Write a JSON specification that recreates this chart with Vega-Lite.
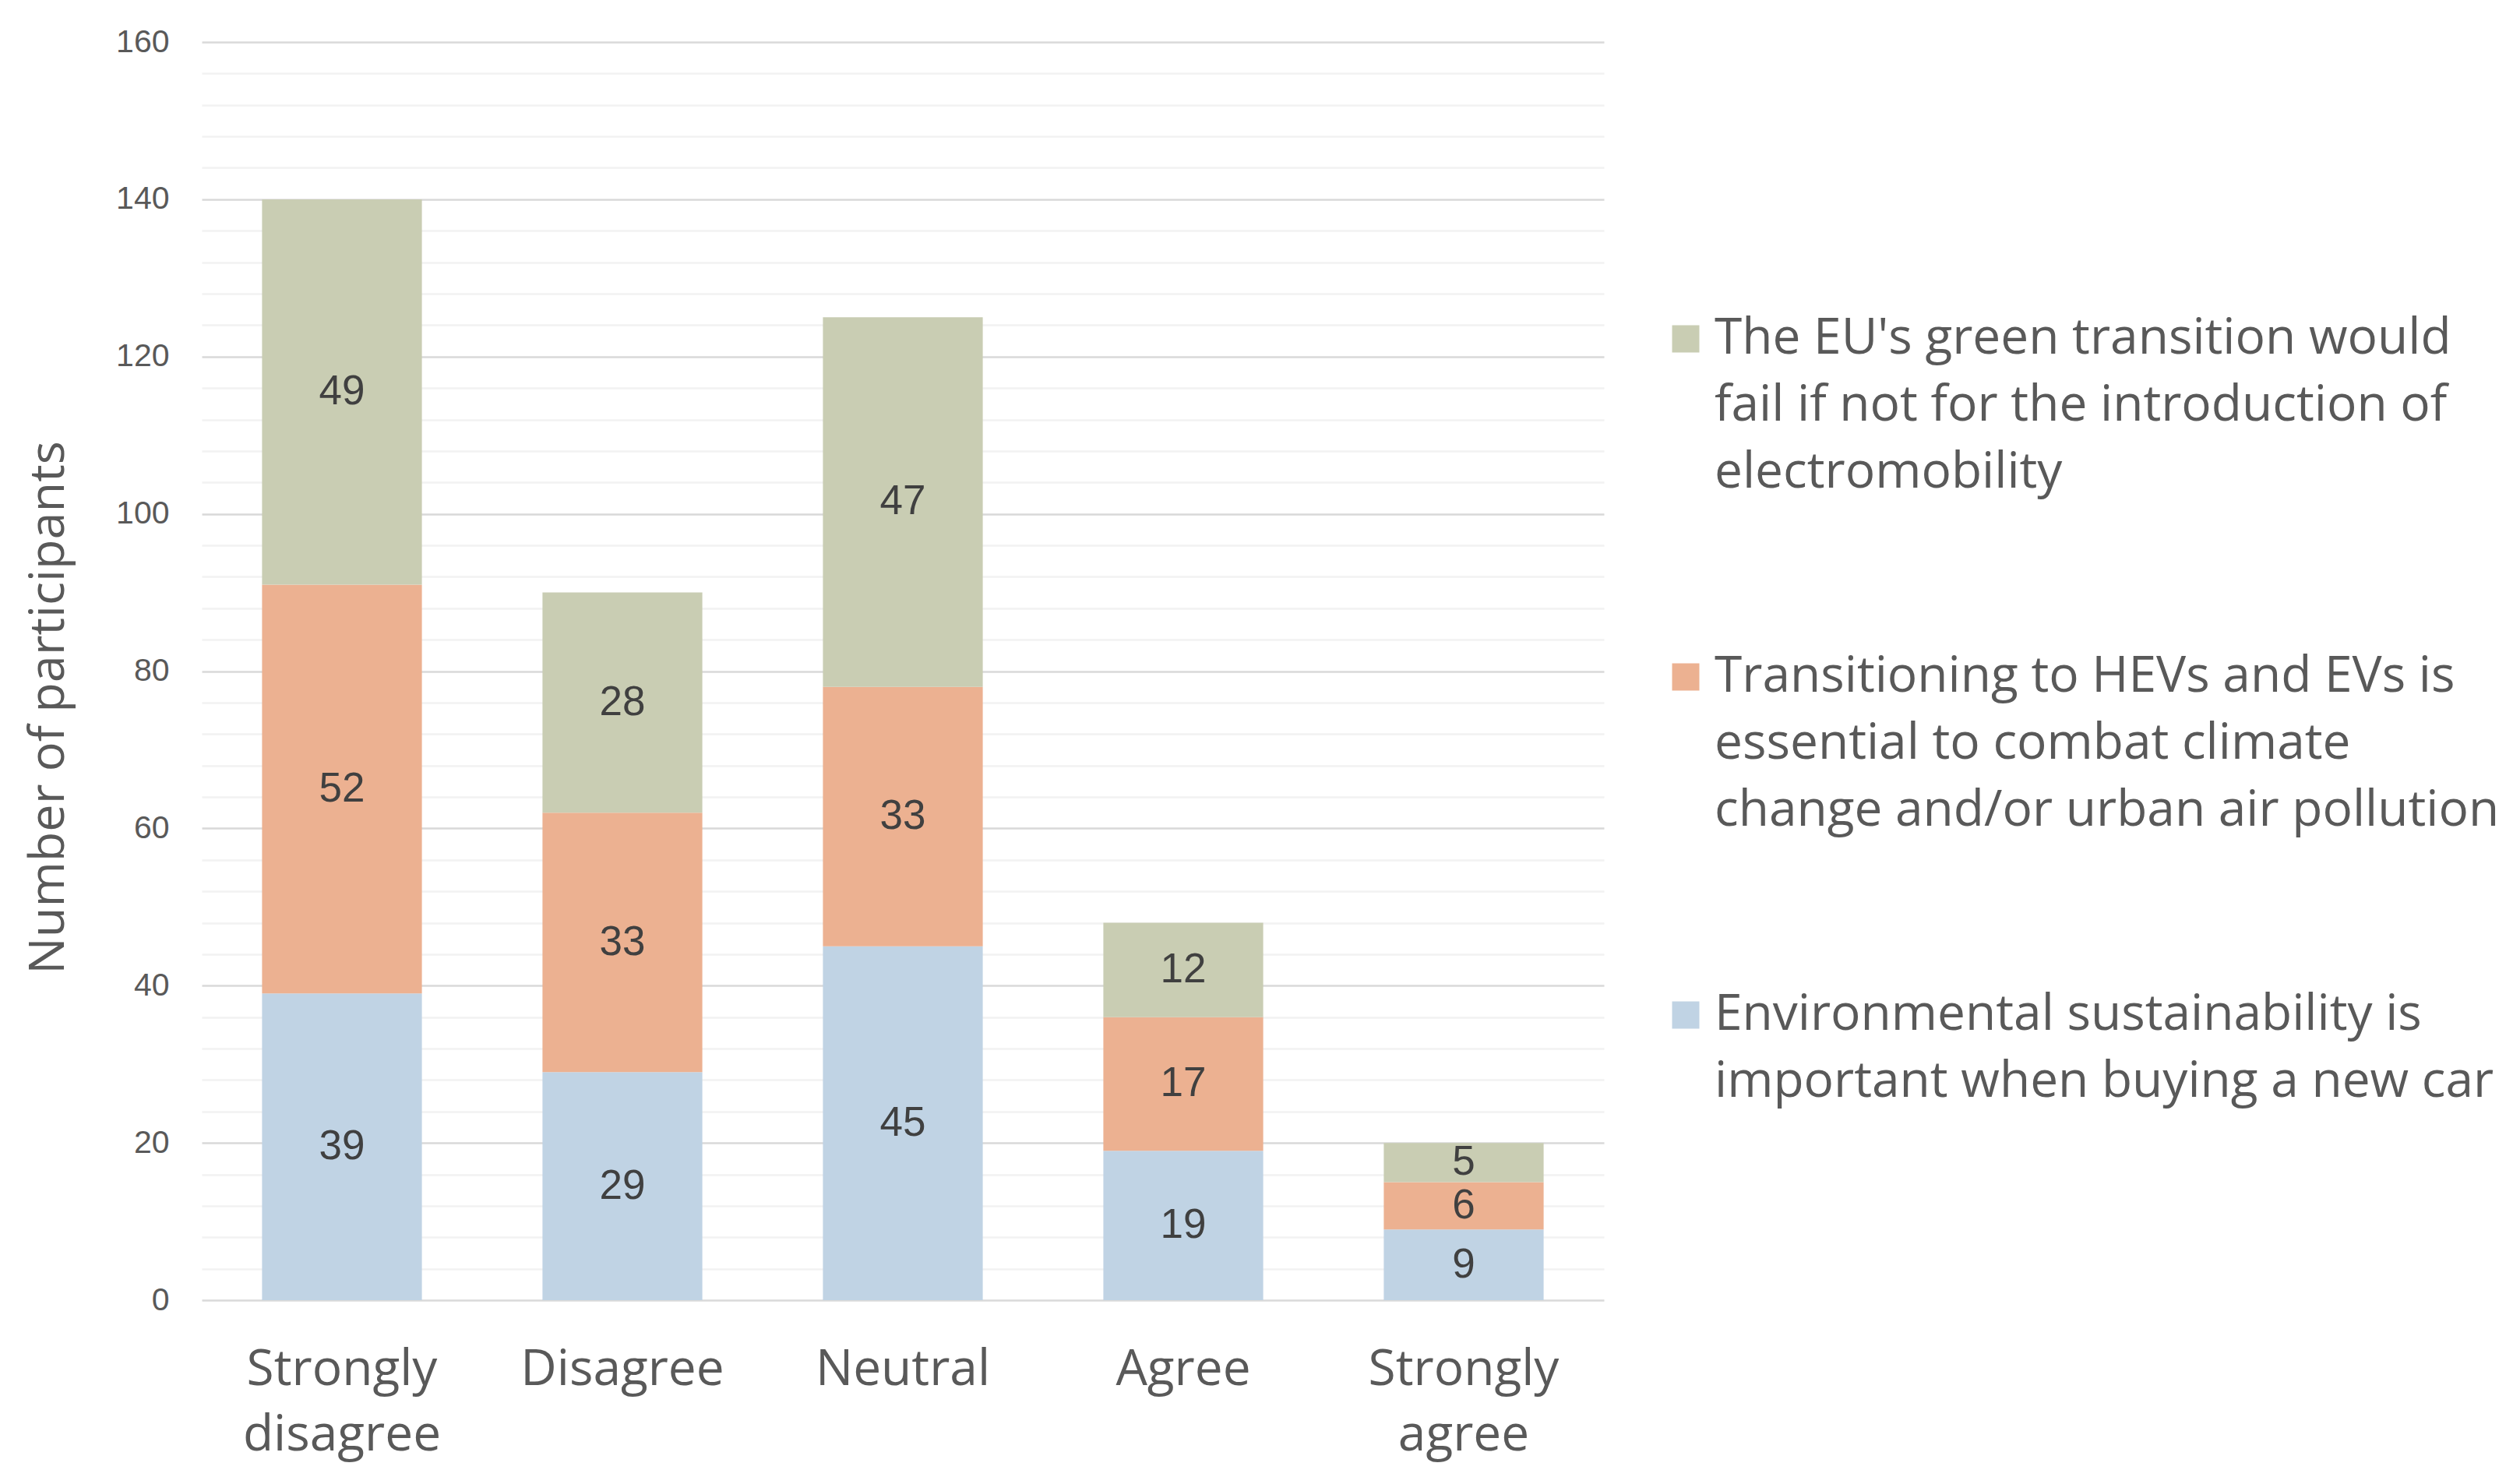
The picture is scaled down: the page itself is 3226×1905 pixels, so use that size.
{
  "$schema": "https://vega.github.io/schema/vega-lite/v6.json",
  "description": "Stacked bar chart of agreement with three statements on electromobility",
  "width": 1800,
  "height": 1615,
  "autosize": {"type": "none"},
  "padding": {"left": 259, "top": 54, "right": 1167, "bottom": 236},
  "background": "white",
  "data": {
    "values": [
      {"response": "Strongly disagree", "statement": "Environmental sustainability is important when buying a new car", "layer": 1, "count": 39},
      {"response": "Strongly disagree", "statement": "Transitioning to HEVs and EVs is essential to combat climate change and/or urban air pollution", "layer": 2, "count": 52},
      {"response": "Strongly disagree", "statement": "The EU's green transition would fail if not for the introduction of electromobility", "layer": 3, "count": 49},
      {"response": "Disagree", "statement": "Environmental sustainability is important when buying a new car", "layer": 1, "count": 29},
      {"response": "Disagree", "statement": "Transitioning to HEVs and EVs is essential to combat climate change and/or urban air pollution", "layer": 2, "count": 33},
      {"response": "Disagree", "statement": "The EU's green transition would fail if not for the introduction of electromobility", "layer": 3, "count": 28},
      {"response": "Neutral", "statement": "Environmental sustainability is important when buying a new car", "layer": 1, "count": 45},
      {"response": "Neutral", "statement": "Transitioning to HEVs and EVs is essential to combat climate change and/or urban air pollution", "layer": 2, "count": 33},
      {"response": "Neutral", "statement": "The EU's green transition would fail if not for the introduction of electromobility", "layer": 3, "count": 47},
      {"response": "Agree", "statement": "Environmental sustainability is important when buying a new car", "layer": 1, "count": 19},
      {"response": "Agree", "statement": "Transitioning to HEVs and EVs is essential to combat climate change and/or urban air pollution", "layer": 2, "count": 17},
      {"response": "Agree", "statement": "The EU's green transition would fail if not for the introduction of electromobility", "layer": 3, "count": 12},
      {"response": "Strongly agree", "statement": "Environmental sustainability is important when buying a new car", "layer": 1, "count": 9},
      {"response": "Strongly agree", "statement": "Transitioning to HEVs and EVs is essential to combat climate change and/or urban air pollution", "layer": 2, "count": 6},
      {"response": "Strongly agree", "statement": "The EU's green transition would fail if not for the introduction of electromobility", "layer": 3, "count": 5}
    ]
  },
  "encoding": {
    "x": {
      "field": "response",
      "type": "nominal",
      "sort": ["Strongly disagree", "Disagree", "Neutral", "Agree", "Strongly agree"],
      "scale": {"paddingInner": 0.43, "paddingOuter": 0.215},
      "axis": {
        "title": null,
        "labelAngle": 0,
        "labelExpr": "split(datum.label, ' ')",
        "labelFont": "Open Sans",
        "labelFontSize": 64,
        "labelLineHeight": 84,
        "labelColor": "#595959",
        "labelPadding": 57,
        "labelLimit": 1000,
        "domain": false,
        "ticks": false,
        "grid": false
      }
    },
    "y": {
      "field": "count",
      "type": "quantitative",
      "stack": "zero",
      "scale": {"domain": [0, 160], "nice": false},
      "axis": {
        "values": [0, 4, 8, 12, 16, 20, 24, 28, 32, 36, 40, 44, 48, 52, 56, 60, 64, 68, 72, 76, 80, 84, 88, 92, 96, 100, 104, 108, 112, 116, 120, 124, 128, 132, 136, 140, 144, 148, 152, 156, 160],
        "labelExpr": "datum.value % 20 === 0 ? datum.label : ''",
        "labelOverlap": false,
        "labelBound": false,
        "labelFont": "Liberation Sans",
        "labelFontSize": 41,
        "labelColor": "#595959",
        "labelPadding": 42,
        "domain": false,
        "ticks": false,
        "grid": true,
        "gridWidth": 2.5,
        "gridColor": {"condition": {"test": "datum.value % 20 === 0", "value": "#d9d9d9"}, "value": "#f2f2f2"},
        "title": "Number of participants",
        "titleFont": "Open Sans",
        "titleFontSize": 63,
        "titleFontWeight": "normal",
        "titleColor": "#595959",
        "titleAngle": -90,
        "titleAlign": "center",
        "titleBaseline": "middle",
        "titleX": -197,
        "titleY": 854
      }
    },
    "order": {"field": "layer", "type": "quantitative"}
  },
  "layer": [
    {
      "mark": {"type": "bar"},
      "encoding": {
        "color": {
          "field": "statement",
          "type": "nominal",
          "scale": {
            "domain": [
              "The EU's green transition would fail if not for the introduction of electromobility",
              "Transitioning to HEVs and EVs is essential to combat climate change and/or urban air pollution",
              "Environmental sustainability is important when buying a new car"
            ],
            "range": ["#c9cdb3", "#ecb191", "#c0d3e4"]
          },
          "legend": {
            "title": null,
            "orient": "none",
            "legendX": 1873,
            "legendY": 349,
            "padding": 0,
            "symbolType": "square",
            "symbolSize": 1225,
            "symbolStrokeWidth": 0,
            "symbolOpacity": 1,
            "symbolOffset": 0,
            "labelFont": "Open Sans",
            "labelFontSize": 64,
            "labelColor": "#595959",
            "labelOffset": 5,
            "labelLimit": 2000,
            "rowPadding": 198,
            "labelExpr": "indexof(datum.label, 'green') >= 0 ? [\"The EU's green transition would\", 'fail if not for the introduction of', 'electromobility'] : indexof(datum.label, 'HEVs') >= 0 ? ['Transitioning to HEVs and EVs is', 'essential to combat climate', 'change and/or urban air pollution'] : ['Environmental sustainability is', 'important when buying a new car']",
            "encode": {"labels": {"update": {"lineHeight": {"value": 86}}}}
          }
        }
      }
    },
    {
      "mark": {"type": "text", "font": "Liberation Sans", "fontSize": 53, "color": "#404040", "baseline": "middle", "align": "center"},
      "encoding": {
        "y": {"field": "count", "type": "quantitative", "stack": "zero", "bandPosition": 0.5},
        "detail": {"field": "statement"},
        "text": {"field": "count", "type": "quantitative"}
      }
    }
  ],
  "config": {"view": {"stroke": null}}
}
